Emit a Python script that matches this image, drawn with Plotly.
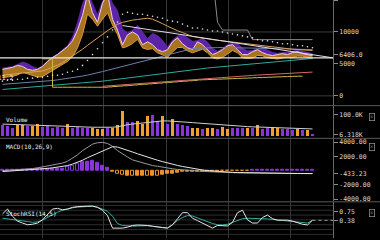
import plotly.graph_objects as go
from plotly.subplots import make_subplots

# ---------------- data ----------------
idx = list(range(63))
close = [4150, 4310, 4460, 4770, 4610, 4150, 4000, 4150, 4610, 5380,
         6000, 6460, 7080, 7690, 8610, 10300, 12600, 15800, 13000, 11500,
         14500, 16000, 12000, 10300, 8000, 9540, 10000, 9540, 8000, 8460,
         8000, 7230, 6920, 7230, 8460, 9070, 8150, 7540, 7230, 8460,
         8000, 7230, 6460, 6770, 7230, 7840, 8000, 7230, 6460, 6460,
         6920, 7230, 6770, 6460, 6310, 6460, 6610, 6460, 6770, 6920,
         6610, 6460, 6310]
wick_up = [200, 150, 150, 150, 700, 900, 600, 150, 100, 100,
           100, 100, 150, 200, 600, 1200, 1800, 400, 1500, 1200,
           300, 300, 2500, 3000, 2500, 300, 300, 1500, 2000, 500,
           1800, 2200, 1800, 400, 300, 300, 1500, 1600, 1300, 200,
           1000, 1200, 1000, 200, 200, 200, 300, 1000, 1000, 600,
           200, 200, 800, 700, 500, 200, 200, 400, 200, 200,
           400, 400, 300]
wick_dn = [1300, 1400, 1400, 1500, 900, 700, 800, 1200, 1600, 1900,
           2000, 2100, 2200, 2300, 2500, 2800, 3000, 3000, 1000, 600,
           2500, 3000, 900, 700, 500, 1800, 1800, 700, 500, 1200,
           600, 500, 500, 1200, 1600, 1500, 600, 500, 500, 1400,
           700, 500, 500, 1000, 1200, 1300, 900, 500, 500, 600,
           1000, 900, 500, 500, 400, 700, 700, 400, 800, 700,
           400, 400, 400]
sar = [2310, 2460, 2460, 2610, 2610, 2770, 2770, 2920, 2920, 3080,
       3230, 3230, 3380, 3690, 3850, 4150, 4770, 5540, 6460, 7380,
       8300, 9230, 10300, 11540, 12770, 13070, 12920, 12770, 12770, 12610,
       12460, 12300, 12150, 11840, 11690, 11540, 11230, 10920, 10610, 10610,
       10460, 10300, 10150, 10150, 10000, 9840, 9690, 9540, 9380, 9230,
       9070, 8770, 8610, 8610, 8460, 8300, 8150, 8150, 8000, 7840,
       7840, 7690, 7540]
ma_tan = [3230, 3300, 3380, 3460, 3540, 3620, 3700, 3780, 3900, 4150,
          4450, 4800, 5200, 5700, 6200, 6700, 7300, 7900, 8500, 9100,
          9700, 10200, 10700, 11200, 11500, 11700, 11850, 11950, 12050, 12150,
          12000, 11700, 11300, 10900, 10500, 10200, 9900, 9600, 9300, 9150,
          9000, 8900, 8800, 8700, 8600, 8500, 8400, 8300, 8200, 8100,
          8000, 7900, 7800, 7700, 7600, 7500, 7400, 7350, 7300, 7250,
          7200, 7150, 7100]
ma_blue = [1800, 1850, 1900, 1950, 2000, 2050, 2100, 2150, 2200, 2300,
           2400, 2500, 2600, 2700, 2800, 2950, 3100, 3250, 3400, 3600,
           3800, 4000, 4200, 4400, 4600, 4800, 5000, 5200, 5400, 5600,
           5800, 6000, 6200, 6400, 6600, 6800, 7000, 7200, 7400, 7450,
           7500, 7520, 7540, 7550, 7560, 7560, 7550, 7540, 7520, 7500,
           7480, 7460, 7440, 7420, 7400, 7380, 7360, 7340, 7320, 7300,
           7280, 7260, 7240]
ma_teal = [1000, 1060, 1120, 1180, 1240, 1300, 1370, 1440, 1510, 1580,
           1650, 1720, 1790, 1860, 1930, 2000, 2060, 2120, 2180, 2240,
           2300, 2400, 2500, 2600, 2700, 2800, 2900, 3000, 3100, 3200,
           3300, 3400, 3500, 3600, 3700, 3800, 3900, 4000, 4150, 4220,
           4290, 4360, 4430, 4500, 4570, 4640, 4710, 4780, 4850, 4920,
           4990, 5060, 5130, 5200, 5270, 5340, 5410, 5480, 5550, 5620,
           5690, 5760, 5850]
ch_low = [None] * 8 + [5800, 5800, 1350, 1350, 1350, 1350, 1350, 1350, 1350, 1350,
          1350, 1350, 1350, 1400, 1460, 1520, 1580, 1640, 1700, 1760,
          1820, 1880, 1940, 2000, 2060, 2120, 2180, 2240, 2300, 2360,
          2420, 2500, 2530, 2560, 2590, 2620, 2650, 2680, 2710, 2740,
          2770, 2800, 2830, 2860, 2890, 2920, 2950, 2980, 3010, 3040,
          3060, 3080, 3100]
ma_red = [None] * 20 + [1500, 1560, 1620, 1680, 1740, 1800, 1860, 1920, 1980, 2040,
          2100, 2160, 2220, 2280, 2340, 2400, 2460, 2520, 2600, 2650,
          2700, 2750, 2800, 2850, 2900, 2950, 3000, 3050, 3100, 3150,
          3200, 3250, 3300, 3350, 3400, 3450, 3500, 3550, 3600, 3650,
          3680, 3700, 3720]
ch_high = [19000] * 43 + [11500, 10300, 10300, 10300, 10300, 10300, 10300, 8800, 8800, 8800,
           8800, 8800, 8800, 8800, 8800, 8800, 8800, 8800, 8800, 8800]
trend_x = [24, 66.1]
trend_y = [11000, 5950]
last_line = 5950

volume = [50, 45, 40, 50, 52, 45, 48, 55, 42, 45,
          40, 42, 40, 58, 40, 42, 38, 40, 38, 35,
          32, 38, 40, 50, 117, 65, 65, 72, 55, 96,
          98, 70, 95, 55, 81, 55, 52, 48, 38, 40,
          35, 38, 40, 34, 42, 35, 38, 40, 38, 40,
          36, 50, 35, 38, 36, 38, 35, 33, 30, 35,
          30, 28, 6.318]
vol_up = [0, 0, 0, 1, 1, 0, 1, 1, 0, 0,
          0, 0, 0, 1, 0, 0, 0, 0, 1, 1,
          1, 0, 1, 1, 1, 0, 0, 1, 1, 1,
          0, 0, 1, 0, 1, 0, 0, 0, 1, 1,
          0, 1, 1, 0, 1, 1, 0, 0, 0, 1,
          0, 1, 0, 0, 1, 1, 0, 0, 0, 1,
          0, 1, 0]
vol_ma = [57, 56, 55, 54, 53, 52, 51, 50, 49, 48,
          47, 46, 45, 45, 44, 44, 43, 43, 42, 42,
          41, 41, 42, 44, 50, 54, 57, 60, 62, 65,
          68, 70, 72, 72, 71, 70, 68, 66, 64, 62,
          60, 58, 56, 54, 52, 50, 48, 47, 46, 45,
          44, 43, 42, 41, 40, 39, 38, 37, 36, 35,
          35, 34, 34]

macd = [0, 30, 60, 100, 150, 200, 280, 380, 500, 620,
        750, 900, 1050, 1300, 1700, 2200, 2800, 3300, 3700, 3900,
        3950, 3800, 3400, 2800, 2300, 1900, 1500, 1300, 1000, 850,
        700, 600, 450, 350, 250, 150, 80, 20, -20, -60,
        -100, -150, -200, -230, -260, -280, -300, -320, -330, -350,
        -360, -370, -380, -390, -400, -405, -410, -415, -420, -425,
        -430, -432, -433.23]
signal = [-140, -100, -60, -20, 20, 60, 100, 150, 220, 300,
          380, 460, 550, 700, 900, 1150, 1450, 1800, 2100, 2450,
          2800, 3100, 3340, 3300, 3100, 2850, 2600, 2350, 2100, 1900,
          1670, 1450, 1250, 1050, 880, 720, 570, 430, 300, 180,
          80, 0, -70, -130, -180, -220, -250, -280, -300, -320,
          -335, -350, -360, -370, -380, -390, -395, -400, -405, -410,
          -415, -420, -425]
hist = [120, 140, 150, 150, 160, 170, 180, 200, 220, 240,
        260, 280, 300, 500, 700, 1000, 1200, 1250, 1400, 1100,
        700, 400, -150, -400, -600, -700, -700, -700, -750, -750,
        -750, -700, -600, -500, -400, -300, -200, -150, -120, -110,
        -110, -100, -100, -100, -90, -90, -80, -70, -60, -50,
        60, 70, 80, 80, 90, 90, 80, 80, 70, 70,
        60, 60, 50]
hist_hollow = [0, 0, 0, 0, 0, 0, 0, 0, 0, 0,
               0, 0, 0, 1, 1, 1, 0, 0, 0, 0,
               0, 0, 0, 1, 1, 0, 1, 0, 0, 1,
               0, 1, 0, 0, 0, 0, 0, 0, 0, 0,
               0, 0, 0, 0, 0, 0, 0, 0, 0, 0,
               0, 0, 0, 0, 0, 0, 0, 0, 0, 0,
               0, 0, 0]

stoch_k = [0.65, 0.85, 0.55, 0.35, 0.27, 0.20, 0.22, 0.27, 0.40, 0.62,
           0.85, 0.88, 0.82, 0.85, 0.92, 0.95, 0.97, 0.97, 0.97, 0.92,
           0.80, 0.58, 0.06, 0.06, 0.06, 0.10, 0.17, 0.19, 0.19, 0.17,
           0.14, 0.10, 0.08, 0.06, 0.20, 0.45, 0.70, 0.70, 0.47, 0.37,
           0.27, 0.15, 0.06, 0.17, 0.16, 0.15, 0.30, 0.70, 0.80, 0.40,
           0.27, 0.27, 0.50, 0.60, 0.45, 0.39, 0.39, 0.39, 0.35, 0.28,
           0.22, 0.19, 0.39]
stoch_d = [0.47, 0.45, 0.43, 0.40, 0.36, 0.33, 0.30, 0.32, 0.39, 0.50,
           0.62, 0.72, 0.80, 0.86, 0.90, 0.93, 0.95, 0.96, 0.97, 0.93,
           0.86, 0.76, 0.55, 0.25, 0.17, 0.14, 0.14, 0.15, 0.17, 0.16,
           0.13, 0.10, 0.08, 0.07, 0.20, 0.38, 0.50, 0.58, 0.56, 0.48,
           0.40, 0.33, 0.25, 0.20, 0.19, 0.22, 0.30, 0.40, 0.45, 0.47,
           0.47, 0.47, 0.45, 0.44, 0.42, 0.40, 0.39, 0.37, 0.34, 0.31,
           0.28, 0.27, 0.38]

main_ticks = [0, 5000, 6406, 10000, 15000]
main_ticktext = ["0", "5000", "6406.0", "10000", "15000"]
vol_ticks = [6318, 100000]
vol_ticktext = ["6.318K", "100.0K"]
macd_ticks = [-4000, -2000, -433.23, 2000, 4000]
macd_ticktext = ["-4000.00", "-2000.00", "-433.23", "2000.00", "4000.00"]
stoch_ticks = [0.38, 0.75]
stoch_ticktext = ["0.38", "0.75"]
grid_x = [7.9, 20.2, 32.8, 45.1, 57.5]
main_grid = [0, 10000]
stoch_grid = [-0.2, 0, 0.2, 0.4, 0.6, 0.8, 1.0]

# ---------------- styling ----------------
ORANGE = "#f0a030"
PURPLE = "#8a34dc"
TXT = "#d8d8d8"
MONO = "DejaVu Sans Mono"

fig = make_subplots(rows=4, cols=1, shared_xaxes=True, vertical_spacing=0.005)

hi = [c + u for c, u in zip(close, wick_up)]
lo = [c - d for c, d in zip(close, wick_dn)]

# price band
fig.add_trace(go.Scatter(x=idx, y=hi, mode="lines", line=dict(width=0.6, color="#6a34b8"),
                         hoverinfo="skip"), row=1, col=1)
fig.add_trace(go.Scatter(x=idx, y=close, mode="lines", line=dict(width=0),
                         fill="tonexty", fillcolor="rgb(92,36,168)"), row=1, col=1)
fig.add_trace(go.Scatter(x=idx, y=lo, mode="lines", line=dict(width=1, color="#d89a38"),
                         fill="tonexty", fillcolor="rgb(168,116,34)"), row=1, col=1)
fig.add_trace(go.Scatter(x=idx, y=close, mode="lines", line=dict(width=1, color="#f2d2ea")),
              row=1, col=1)

# overlays
fig.add_trace(go.Scatter(x=idx, y=ch_high, mode="lines", line=dict(width=1, color="#8a8a8a")), row=1, col=1)
fig.add_trace(go.Scatter(x=idx, y=ma_teal, mode="lines", line=dict(width=1, color="#2fa8a0")), row=1, col=1)
fig.add_trace(go.Scatter(x=idx, y=ma_blue, mode="lines", line=dict(width=1, color="#6f7fa8")), row=1, col=1)
fig.add_trace(go.Scatter(x=idx, y=ch_low, mode="lines", line=dict(width=1, color="#c8b848", shape="hv")), row=1, col=1)
fig.add_trace(go.Scatter(x=idx, y=ma_red, mode="lines", line=dict(width=1, color="#d86868")), row=1, col=1)
fig.add_trace(go.Scatter(x=idx, y=ma_tan, mode="lines", line=dict(width=1, color="#d8a458")), row=1, col=1)
fig.add_trace(go.Scatter(x=trend_x, y=trend_y, mode="lines", line=dict(width=1, color="#e6d6e2")), row=1, col=1)
fig.add_trace(go.Scatter(x=idx, y=sar, mode="markers", marker=dict(size=1.6, color="#e0e0e0")), row=1, col=1)

# volume
vol_colors = [ORANGE if u else PURPLE for u in vol_up]
fig.add_trace(go.Bar(x=idx, y=[v * 1000 for v in volume], marker=dict(color=vol_colors, line=dict(width=0)),
                     width=0.68), row=2, col=1)
fig.add_trace(go.Scatter(x=idx, y=[v * 1000 for v in vol_ma], mode="lines",
                         line=dict(width=1, color="#cfcfcf")), row=2, col=1)

# MACD
h_col = [PURPLE if h >= 0 else "#e89428" for h in hist]
h_fill = ["rgba(0,0,0,0)" if hh else c for c, hh in zip(h_col, hist_hollow)]
fig.add_trace(go.Bar(x=idx, y=hist, marker=dict(color=h_fill, line=dict(color=h_col, width=1)),
                     width=0.68), row=3, col=1)
fig.add_trace(go.Scatter(x=idx, y=macd, mode="lines", line=dict(width=1, color="#9a9a9a")), row=3, col=1)
fig.add_trace(go.Scatter(x=idx, y=signal, mode="lines", line=dict(width=1, color="#e6e6e6")), row=3, col=1)

# StochRSI
fig.add_trace(go.Scatter(x=idx, y=stoch_d, mode="lines", line=dict(width=1, color="#3aa89c")), row=4, col=1)
fig.add_trace(go.Scatter(x=idx, y=stoch_k, mode="lines", line=dict(width=1, color="#e4e4e4")), row=4, col=1)

# ---------------- layout ----------------
fig.update_layout(
    width=380, height=240, margin=dict(l=0, r=47, t=0, b=0),
    paper_bgcolor="#000000", plot_bgcolor="#000000",
    showlegend=False, bargap=0,
    yaxis=dict(domain=[0.558, 1.0], range=[-1460, 15000], tickvals=main_ticks, ticktext=main_ticktext),
    yaxis2=dict(domain=[0.421, 0.554], range=[-8000, 141900], tickvals=vol_ticks, ticktext=vol_ticktext),
    yaxis3=dict(domain=[0.154, 0.417], range=[-4320, 4460], tickvals=macd_ticks, ticktext=macd_ticktext),
    yaxis4=dict(domain=[0.0, 0.15], range=[-0.35, 1.13], tickvals=stoch_ticks, ticktext=stoch_ticktext),
)
fig.update_yaxes(side="right", showgrid=False, zeroline=False, showline=True, linecolor="#6a6a6a",
                 linewidth=1, ticks="outside", ticklen=4, tickcolor="#8a8a8a",
                 tickfont=dict(family=MONO, size=6.5, color=TXT))
fig.update_xaxes(range=[-0.5, 66.1], tickvals=grid_x, showticklabels=False, showgrid=True,
                 gridcolor="#353535", gridwidth=1, zeroline=False, showline=False, ticks="")

shapes = []
for g in main_grid:
    shapes.append(dict(type="line", xref="paper", yref="y", x0=0, x1=1, y0=g, y1=g,
                       line=dict(color="#3c3c3c", width=1), layer="below"))
shapes.append(dict(type="line", xref="paper", yref="y", x0=0, x1=1, y0=last_line, y1=last_line,
                   line=dict(color="#e8e8e8", width=1.3)))
for g in stoch_grid:
    shapes.append(dict(type="line", xref="paper", yref="y4", x0=0, x1=1, y0=g, y1=g,
                       line=dict(color="#2e2e2e", width=1), layer="below"))
shapes.append(dict(type="line", xref="x4", yref="y4", x0=idx[-1], x1=66.1,
                   y0=stoch_ticks[0], y1=stoch_ticks[0], line=dict(color="#9a9a9a", width=1, dash="dot")))
for py in [106.5, 139.5, 203.5]:
    shapes.append(dict(type="line", xref="paper", yref="paper", x0=0, x1=1.15,
                       y0=1 - py / 240, y1=1 - py / 240, line=dict(color="#5a5a5a", width=1)))
fig.update_layout(shapes=shapes)

ann = []
for text, py in [("Volume", 120), ("MACD(10,26,9)", 148), ("StochRSI(14,5)", 215)]:
    ann.append(dict(text=text, xref="paper", yref="paper", x=0.012, y=1 - py / 240,
                    xanchor="left", yanchor="middle", showarrow=False,
                    font=dict(family=MONO, size=6, color="#f0f0f0")))
ann.append(dict(text="5911.2", xref="paper", yref="paper", x=0.047, y=1 - 79 / 240,
                xanchor="right", yanchor="middle", showarrow=False,
                font=dict(family=MONO, size=6.5, color="#f0f0f0")))
for py in [118, 148, 215]:
    ann.append(dict(text="x", xref="paper", yref="paper", x=1.117, y=1 - py / 240,
                    xanchor="center", yanchor="middle", showarrow=False,
                    font=dict(family=MONO, size=4.5, color="#9a9a9a"),
                    bordercolor="#8a8a8a", borderwidth=0.8, borderpad=0.5))
fig.update_layout(annotations=ann)

fig.write_html("out.html")
